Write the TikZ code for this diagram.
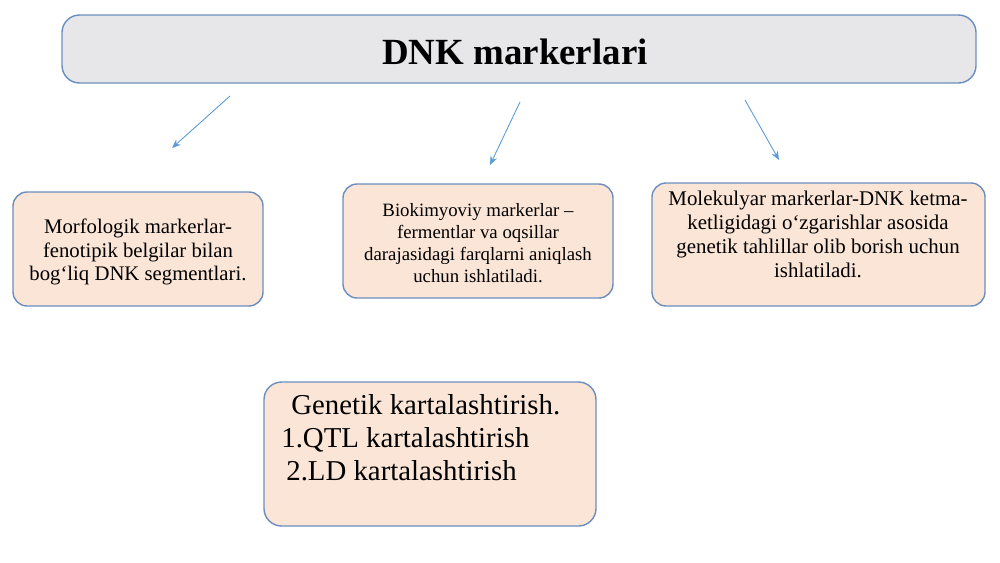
\documentclass[tikz,border=0pt]{standalone}
\usepackage{fontspec}
\setmainfont{Liberation Serif}
\usetikzlibrary{arrows.meta}
\definecolor{peach}{HTML}{FBE5D6}
\definecolor{greyfill}{HTML}{E7E7E9}
\definecolor{edgeblue}{HTML}{6C8EBF}
\definecolor{arrowblue}{HTML}{5B9BD5}
\tikzset{
  box/.style={draw=edgeblue, line width=0.8pt, rounded corners=8pt, fill=peach},
  boxtext/.style={align=center, inner sep=0pt},
  gtext/.style={anchor=base west, inner sep=0pt, font=\fontsize{16.4}{20}\selectfont},
  arr/.style={draw=arrowblue, line width=0.5pt, -{Stealth[length=5pt,width=4pt]}},
}
\begin{document}
\begin{tikzpicture}[x=0.02cm, y=-0.02cm]
\useasboundingbox (0,0) rectangle (1000,562);
% title box
\draw[box, fill=greyfill, rounded corners=10pt] (62,15) rectangle (976,83);
\node[boxtext, font=\fontsize{21}{25}\selectfont\bfseries] (title) at (515,52) {DNK markerlari};
% three boxes
\draw[box] (13,192) rectangle (263,306);
\node[boxtext, font=\fontsize{11.8}{13.2}\selectfont] (morf) at (138,252) {Morfologik markerlar-\\fenotipik belgilar bilan\\bog‘liq DNK segmentlari.};
\draw[box] (343,184) rectangle (613,298);
\node[boxtext, font=\fontsize{10.7}{12.5}\selectfont] (bio) at (478,243) {Biokimyoviy markerlar –\\fermentlar va oqsillar\\darajasidagi farqlarni aniqlash\\uchun ishlatiladi.};
\draw[box] (652,183) rectangle (985,306);
\node[boxtext, font=\fontsize{11.9}{13.7}\selectfont] (mol) at (818,234) {Molekulyar markerlar-DNK ketma-\\ketligidagi o‘zgarishlar asosida\\genetik tahlillar olib borish uchun\\ishlatiladi.};
% bottom box
\draw[box, rounded corners=10pt] (264,382) rectangle (596,526);
\node[gtext] (g1) at (291,414) {Genetik kartalashtirish.};
\node[gtext] (g2) at (281,447) {1.QTL kartalashtirish};
\node[gtext] (g3) at (286,480) {2.LD kartalashtirish};
% arrows
\coordinate (a1s) at (230,96); \coordinate (a1e) at (172,148);
\coordinate (a2s) at (520,102); \coordinate (a2e) at (490,165);
\coordinate (a3s) at (745,100); \coordinate (a3e) at (779,160);
\draw[arr] (a1s) -- (a1e);
\draw[arr] (a2s) -- (a2e);
\draw[arr] (a3s) -- (a3e);
\end{tikzpicture}
\end{document}
